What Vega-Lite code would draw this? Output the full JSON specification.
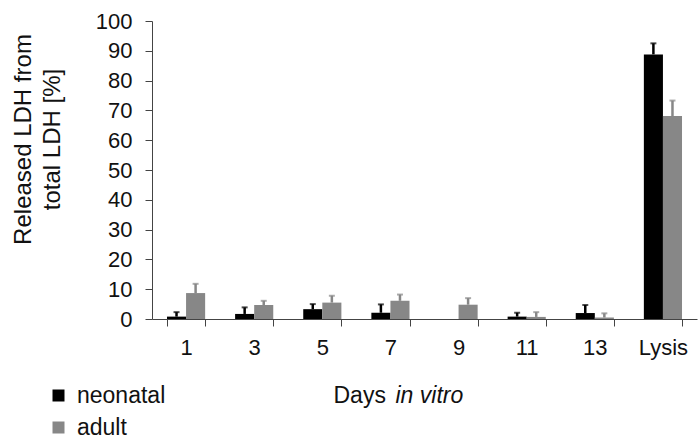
{
  "$schema": "https://vega.github.io/schema/vega-lite/v6.json",
  "autosize": "none",
  "width": 545,
  "height": 298,
  "padding": {"left": 152, "top": 21, "right": 3, "bottom": 119},
  "background": "white",
  "config": {
    "view": {"stroke": null},
    "font": "Liberation Sans",
    "axis": {"grid": false, "domainColor": "#444", "tickColor": "#444", "labelColor": "#111", "titleColor": "#111", "labelFont": "Liberation Sans", "titleFont": "Liberation Sans", "titleFontWeight": "normal"},
    "legend": {"labelFont": "Liberation Sans"}
  },
  "data": {
    "values": [
      {"day": "1", "group": "neonatal", "value": 0.8, "upper": 2.3},
      {"day": "1", "group": "adult", "value": 8.7, "upper": 11.8},
      {"day": "3", "group": "neonatal", "value": 1.7, "upper": 3.9},
      {"day": "3", "group": "adult", "value": 4.7, "upper": 6.1},
      {"day": "5", "group": "neonatal", "value": 3.3, "upper": 5.0},
      {"day": "5", "group": "adult", "value": 5.5, "upper": 7.8},
      {"day": "7", "group": "neonatal", "value": 2.1, "upper": 4.9},
      {"day": "7", "group": "adult", "value": 6.1, "upper": 8.2},
      {"day": "9", "group": "neonatal", "value": 0, "upper": null},
      {"day": "9", "group": "adult", "value": 4.8, "upper": 7.0},
      {"day": "11", "group": "neonatal", "value": 0.8, "upper": 2.1},
      {"day": "11", "group": "adult", "value": 0.7, "upper": 2.3},
      {"day": "13", "group": "neonatal", "value": 2.0, "upper": 4.7},
      {"day": "13", "group": "adult", "value": 0.5, "upper": 1.9},
      {"day": "Lysis", "group": "neonatal", "value": 88.8, "upper": 92.5},
      {"day": "Lysis", "group": "adult", "value": 68.1, "upper": 73.3}
    ]
  },
  "encoding": {
    "x": {
      "field": "day", "type": "nominal",
      "sort": ["1", "3", "5", "7", "9", "11", "13", "Lysis"],
      "scale": {"paddingInner": 0.44, "paddingOuter": 0.22}
    },
    "xOffset": {
      "field": "group", "type": "nominal",
      "sort": ["neonatal", "adult"],
      "scale": {"paddingInner": 0, "paddingOuter": 0}
    }
  },
  "layer": [
    {
      "mark": {"type": "bar"},
      "encoding": {
        "x": {
          "field": "day", "type": "nominal",
          "sort": ["1", "3", "5", "7", "9", "11", "13", "Lysis"],
          "axis": {
            "orient": "bottom",
            "title": "Days",
            "titleFontSize": 23,
            "titleAlign": "left",
            "titleBaseline": "middle",
            "titleX": 181,
            "titleY": 76,
            "labelAngle": 0,
            "labelFontSize": 22,
            "labelPadding": 11,
            "tickSize": 7,
            "tickBand": "extent",
            "domainWidth": 1
          }
        },
        "y": {
          "field": "value", "type": "quantitative",
          "scale": {"domain": [0, 100], "nice": false},
          "axis": {
            "values": [0, 10, 20, 30, 40, 50, 60, 70, 80, 90, 100],
            "labelOverlap": false,
            "title": ["Released LDH from", "total LDH [%]"],
            "titleFontSize": 24,
            "titleLineHeight": 29,
            "titleAngle": -90,
            "titleAlign": "center",
            "titleBaseline": "middle",
            "titleX": -129,
            "titleY": 118,
            "labelFontSize": 22,
            "labelPadding": 13,
            "tickSize": 7
          }
        },
        "color": {
          "field": "group", "type": "nominal",
          "sort": ["neonatal", "adult"],
          "scale": {"domain": ["neonatal", "adult"], "range": ["#000000", "#878787"]},
          "legend": {
            "title": null,
            "orient": "none",
            "legendX": -105,
            "legendY": 363,
            "direction": "vertical",
            "symbolType": "square",
            "symbolSize": 144,
            "symbolStrokeWidth": 0,
            "labelFontSize": 23,
            "labelColor": "#111",
            "labelOffset": 7,
            "rowPadding": 8,
            "padding": 0
          }
        }
      }
    },
    {
      "mark": {"type": "rule", "strokeWidth": 2.5},
      "encoding": {
        "x": {
          "field": "day", "type": "nominal",
          "sort": ["1", "3", "5", "7", "9", "11", "13", "Lysis"],
          "axis": {
            "orient": "top",
            "title": "in vitro",
            "titleFontSize": 23,
            "titleFontStyle": "italic",
            "titleAlign": "left",
            "titleBaseline": "middle",
            "titleX": 243,
            "titleY": 374,
            "labels": false,
            "ticks": false,
            "domain": false
          }
        },
        "y": {
          "field": "value", "type": "quantitative",
          "axis": {
            "values": [0, 10, 20, 30, 40, 50, 60, 70, 80, 90, 100],
            "labelOverlap": false,
            "title": ["Released LDH from", "total LDH [%]"],
            "titleFontSize": 24,
            "titleLineHeight": 29,
            "titleAngle": -90,
            "titleAlign": "center",
            "titleBaseline": "middle",
            "titleX": -129,
            "titleY": 118,
            "labelFontSize": 22,
            "labelPadding": 13,
            "tickSize": 7
          }
        },
        "y2": {"field": "upper"},
        "color": {"field": "group", "type": "nominal", "sort": ["neonatal", "adult"], "legend": null}
      }
    },
    {
      "mark": {"type": "tick", "orient": "horizontal", "size": 6, "thickness": 2},
      "encoding": {
        "x": {
          "field": "day", "type": "nominal",
          "sort": ["1", "3", "5", "7", "9", "11", "13", "Lysis"],
          "axis": null
        },
        "y": {
          "field": "upper", "type": "quantitative",
          "axis": {
            "values": [0, 10, 20, 30, 40, 50, 60, 70, 80, 90, 100],
            "labelOverlap": false,
            "title": ["Released LDH from", "total LDH [%]"],
            "titleFontSize": 24,
            "titleLineHeight": 29,
            "titleAngle": -90,
            "titleAlign": "center",
            "titleBaseline": "middle",
            "titleX": -129,
            "titleY": 118,
            "labelFontSize": 22,
            "labelPadding": 13,
            "tickSize": 7
          }
        },
        "color": {"field": "group", "type": "nominal", "sort": ["neonatal", "adult"], "legend": null}
      }
    }
  ],
  "resolve": {"axis": {"x": "independent"}}
}
